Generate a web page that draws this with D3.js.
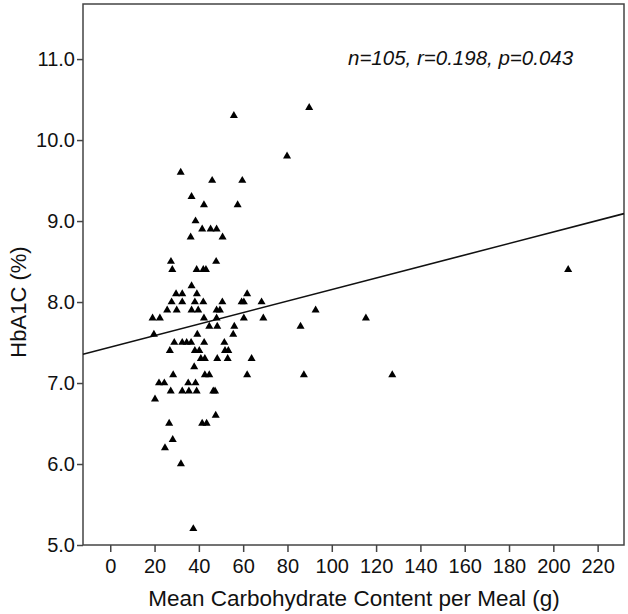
<!DOCTYPE html>
<html>
<head>
<meta charset="utf-8">
<script src="https://cdn.jsdelivr.net/npm/d3@7"></script>
<style>
  body { margin: 0; background: #fff; }
  text { font-family: Arial, "Liberation Sans", sans-serif; fill: #111; }
</style>
</head>
<body>
<svg id="chart" width="628" height="614"></svg>
<script>
// carbohydrate per meal (g) and HbA1C (%)
const carbs = [
  89.8, 79.8, 55.8, 31.8, 46.0, 59.6, 36.7, 42.3, 57.5, 38.5,
  41.5, 45.3, 48.0, 36.3, 50.7, 27.4, 47.8,
  28.0, 39.0, 42.0, 43.2, 36.7,
  29.7, 32.5, 39.1, 61.8,
  27.7, 32.5, 38.2, 42.0, 50.6, 59.3, 60.3, 68.3,
  25.7, 30.0, 36.7, 39.7, 48.0, 49.5, 92.7,
  19.1, 22.4, 42.3, 48.0, 60.3, 69.1, 115.4,
  44.7, 48.3, 56.0, 85.9,
  19.7, 39.3, 55.5,
  28.9, 32.5, 34.5, 36.5, 42.4, 51.5,
  26.9, 38.2, 40.2, 51.8, 53.3,
  40.9, 42.7, 48.3, 53.0, 63.8,
  37.9,
  28.4, 42.7, 44.7, 61.8, 87.4, 127.3,
  22.0, 24.4, 35.2, 38.5,
  27.3, 32.5, 35.5, 39.0, 46.5, 47.3,
  20.2, 47.6, 26.6, 41.5, 43.5, 28.2, 24.7, 31.9, 37.5, 206.7
];
const hba1c = [
  10.4, 9.8, 10.3, 9.6, 9.5, 9.5, 9.3, 9.2, 9.2, 9.0,
  8.9, 8.9, 8.9, 8.8, 8.8, 8.5, 8.5,
  8.4, 8.4, 8.4, 8.4, 8.2,
  8.1, 8.1, 8.1, 8.1,
  8.0, 8.0, 8.0, 8.0, 8.0, 8.0, 8.0, 8.0,
  7.9, 7.9, 7.9, 7.9, 7.9, 7.9, 7.9,
  7.8, 7.8, 7.8, 7.8, 7.8, 7.8, 7.8,
  7.7, 7.7, 7.7, 7.7,
  7.6, 7.6, 7.6,
  7.5, 7.5, 7.5, 7.5, 7.5, 7.5,
  7.4, 7.4, 7.4, 7.4, 7.4,
  7.3, 7.3, 7.3, 7.3, 7.3,
  7.2,
  7.1, 7.1, 7.1, 7.1, 7.1, 7.1,
  7.0, 7.0, 7.0, 7.0,
  6.9, 6.9, 6.9, 6.9, 6.9, 6.9,
  6.8, 6.6, 6.5, 6.5, 6.5, 6.3, 6.2, 6.0, 5.2, 8.4
];
const xTicks = [0, 20, 40, 60, 80, 100, 120, 140, 160, 180, 200, 220];
const yTicks = [5, 6, 7, 8, 9, 10, 11];
// fit line and stats as printed on the figure
const fitIntercept = 7.443;
const fitSlope = 0.00711;
const statsLabel = "n=105, r=0.198, p=0.043";

const svg = d3.select('#chart');
const width = 628;
const height = 614;
const margin = { top: 4, right: 4, bottom: 69, left: 83 };

const x = d3.scaleLinear()
  .domain([-12.3, 231.9])
  .range([margin.left, width - margin.right]);

const y = d3.scaleLinear()
  .domain([5, 11.68])
  .range([height - margin.bottom, margin.top]);

// frame
svg.append('rect')
  .attr('x', margin.left)
  .attr('y', margin.top)
  .attr('width', width - margin.left - margin.right)
  .attr('height', height - margin.top - margin.bottom)
  .attr('fill', 'none')
  .attr('stroke', '#444')
  .attr('stroke-width', 1.5);

// x axis
const gx = svg.append('g')
  .attr('transform', `translate(0,${height - margin.bottom})`)
  .call(d3.axisBottom(x).tickValues(xTicks).tickSize(7).tickSizeOuter(0).tickPadding(7));
gx.select('.domain').remove();
gx.selectAll('line').attr('stroke', '#444').attr('stroke-width', 1.5);
gx.selectAll('text').style('font-size', '20px').attr('fill', '#111');

// y axis
const gy = svg.append('g')
  .attr('transform', `translate(${margin.left},0)`)
  .call(d3.axisLeft(y).tickValues(yTicks).tickFormat(d3.format('.1f')).tickSize(6).tickSizeOuter(0).tickPadding(2));
gy.select('.domain').remove();
gy.selectAll('line').attr('stroke', '#444').attr('stroke-width', 1.5);
gy.selectAll('text').style('font-size', '20px').attr('fill', '#111');

// regression line
const [x0, x1] = x.domain();
svg.append('line')
  .attr('x1', x(x0))
  .attr('y1', y(fitIntercept + fitSlope * x0))
  .attr('x2', x(x1))
  .attr('y2', y(fitIntercept + fitSlope * x1))
  .attr('stroke', '#111')
  .attr('stroke-width', 1.6);

// points
const tri = d3.symbol().type(d3.symbolTriangle).size(28);
svg.append('g')
  .selectAll('path')
  .data(carbs.map((c, i) => ({ c, v: hba1c[i] })))
  .enter().append('path')
  .attr('transform', d => `translate(${x(d.c)},${y(d.v)})`)
  .attr('d', tri)
  .attr('fill', '#000');

// stats annotation
svg.append('text')
  .attr('x', 348)
  .attr('y', 65)
  .style('font-size', '20.5px')
  .style('font-style', 'italic')
  .text(statsLabel);

// axis titles
svg.append('text')
  .attr('x', 354)
  .attr('y', 606)
  .attr('text-anchor', 'middle')
  .style('font-size', '22.5px')
  .text('Mean Carbohydrate Content per Meal (g)');

svg.append('text')
  .attr('transform', 'translate(26,302) rotate(-90)')
  .attr('text-anchor', 'middle')
  .style('font-size', '22px')
  .text('HbA1C (%)');
</script>
</body>
</html>
